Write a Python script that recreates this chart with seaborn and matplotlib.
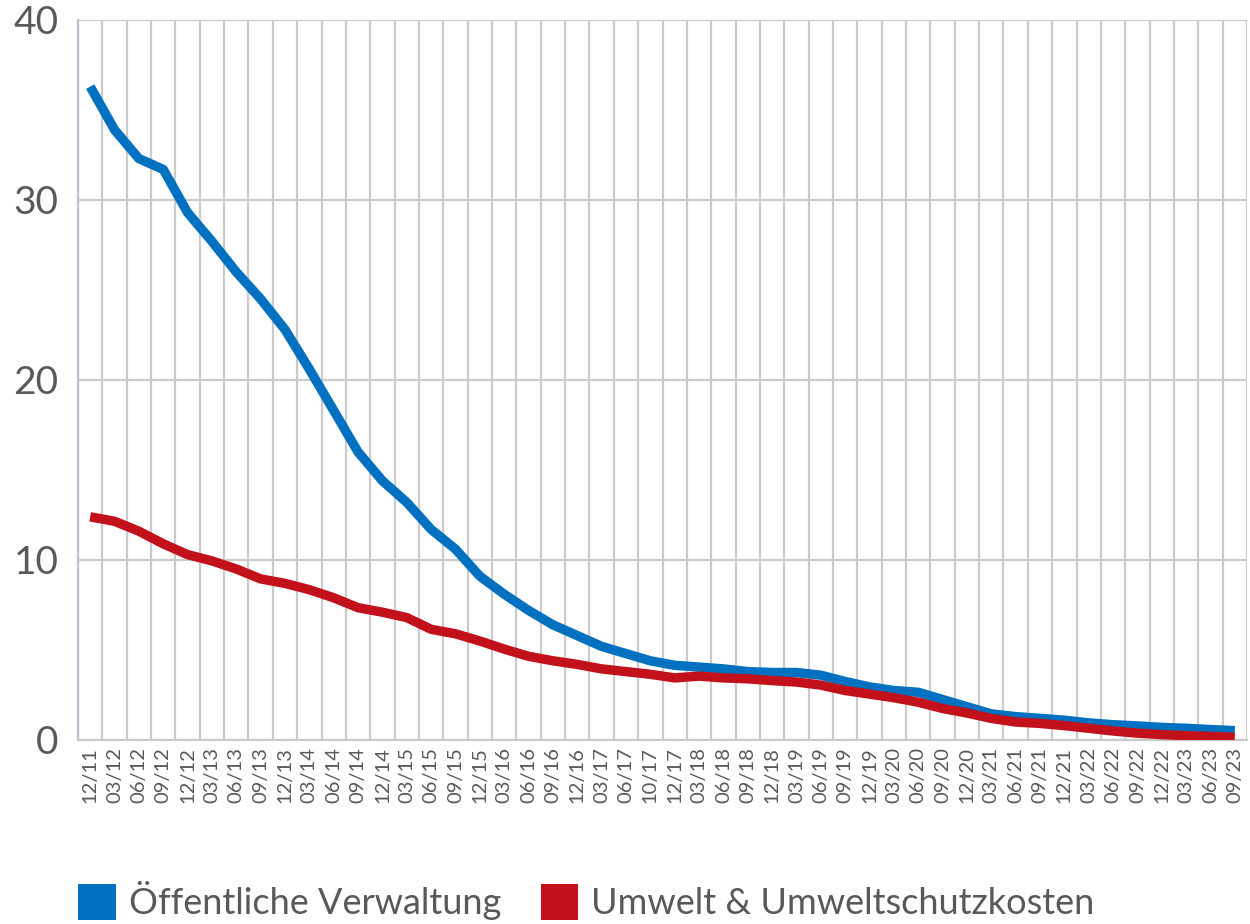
import matplotlib
matplotlib.use("Agg")
import matplotlib.pyplot as plt
import seaborn as sns
import pandas as pd
from matplotlib.patches import Patch
from matplotlib.ticker import FixedLocator

quarters = ["12/11", "03/12", "06/12", "09/12", "12/12", "03/13", "06/13", "09/13",
            "12/13", "03/14", "06/14", "09/14", "12/14", "03/15", "06/15", "09/15",
            "12/15", "03/16", "06/16", "09/16", "12/16", "03/17", "06/17", "10/17",
            "12/17", "03/18", "06/18", "09/18", "12/18", "03/19", "06/19", "09/19",
            "12/19", "03/20", "06/20", "09/20", "12/20", "03/21", "06/21", "09/21",
            "12/21", "03/22", "06/22", "09/22", "12/22", "03/23", "06/23", "09/23"]

verwaltung = [36.3, 33.9, 32.3, 31.7, 29.3, 27.7, 26.0, 24.5,
              22.8, 20.6, 18.3, 16.0, 14.4, 13.2, 11.7, 10.6,
              9.1, 8.1, 7.2, 6.4, 5.8, 5.2, 4.8, 4.4,
              4.15, 4.05, 3.95, 3.8, 3.75, 3.75, 3.6, 3.25,
              2.95, 2.75, 2.65, 2.25, 1.85, 1.45, 1.3, 1.2,
              1.1, 0.95, 0.85, 0.78, 0.7, 0.65, 0.58, 0.52]

umwelt = [12.4, 12.15, 11.6, 10.9, 10.3, 9.95, 9.5, 8.95,
          8.7, 8.35, 7.9, 7.35, 7.1, 6.8, 6.15, 5.9,
          5.5, 5.05, 4.65, 4.4, 4.2, 3.95, 3.8, 3.65,
          3.45, 3.55, 3.45, 3.4, 3.3, 3.22, 3.05, 2.75,
          2.55, 2.35, 2.1, 1.75, 1.5, 1.2, 1.0, 0.92,
          0.8, 0.65, 0.5, 0.38, 0.3, 0.24, 0.2, 0.15]

series_names = ["Öffentliche Verwaltung", "Umwelt & Umweltschutzkosten"]
colors = ["#0070C0", "#C3111C"]
y_ticks = [0, 10, 20, 30, 40]

df = pd.concat([
    pd.DataFrame({"Quartal": quarters, "Wert": verwaltung, "Reihe": series_names[0]}),
    pd.DataFrame({"Quartal": quarters, "Wert": umwelt, "Reihe": series_names[1]}),
], ignore_index=True)

sns.set_theme(style="white")
plt.rcParams["font.family"] = ["Lato", "DejaVu Sans"]

fig = plt.figure(figsize=(12.5, 9.24), dpi=100)
ax = fig.add_axes([78 / 1250, 1 - 740 / 924, (1247 - 78) / 1250, (740 - 20) / 924])

grid_color = "#CBCBCB"
text_color = "#595959"

sns.lineplot(data=df, x="Quartal", y="Wert", hue="Reihe", palette=colors,
             linewidth=6.8, legend=False, ax=ax, sort=False)

n = len(quarters)
ax.set_xlim(-0.5, n - 0.5)
ax.set_ylim(0, 40)
ax.set_yticks(y_ticks)
ax.set_xticks(range(n))
ax.set_xticklabels(quarters, rotation=90, fontsize=14.5, color=text_color)
ax.xaxis.set_minor_locator(FixedLocator([i + 0.5 for i in range(-1, n)]))
ax.tick_params(axis="y", labelsize=28, labelcolor=text_color, length=0, pad=14)
ax.tick_params(axis="x", which="both", length=0, pad=5)
ax.grid(False)
ax.grid(axis="y", which="major", color=grid_color, linewidth=1.6)
ax.grid(axis="x", which="minor", color=grid_color, linewidth=1.6)
for ln in ax.lines:
    ln.set_zorder(3)
    ln.set_solid_capstyle("butt")
    ln.set_solid_joinstyle("round")
ax.set_xlabel("")
ax.set_ylabel("")
for side in ["top", "right"]:
    ax.spines[side].set_visible(False)
ax.spines["left"].set_color("#B9C4CE")
ax.spines["left"].set_linewidth(1.6)
ax.spines["bottom"].set_color(grid_color)
ax.spines["bottom"].set_linewidth(1.6)

handles = [Patch(facecolor=c, edgecolor="none", label=s) for c, s in zip(colors, series_names)]
fig.legend(handles=handles, loc="center left", bbox_to_anchor=(78 / 1250, 1 - 901 / 924),
           ncol=2, frameon=False, fontsize=26, labelcolor=text_color,
           handlelength=1.05, handleheight=1.15, handletextpad=0.35,
           columnspacing=1.1, borderaxespad=0, borderpad=0)

fig.savefig("out.png", dpi=100)
